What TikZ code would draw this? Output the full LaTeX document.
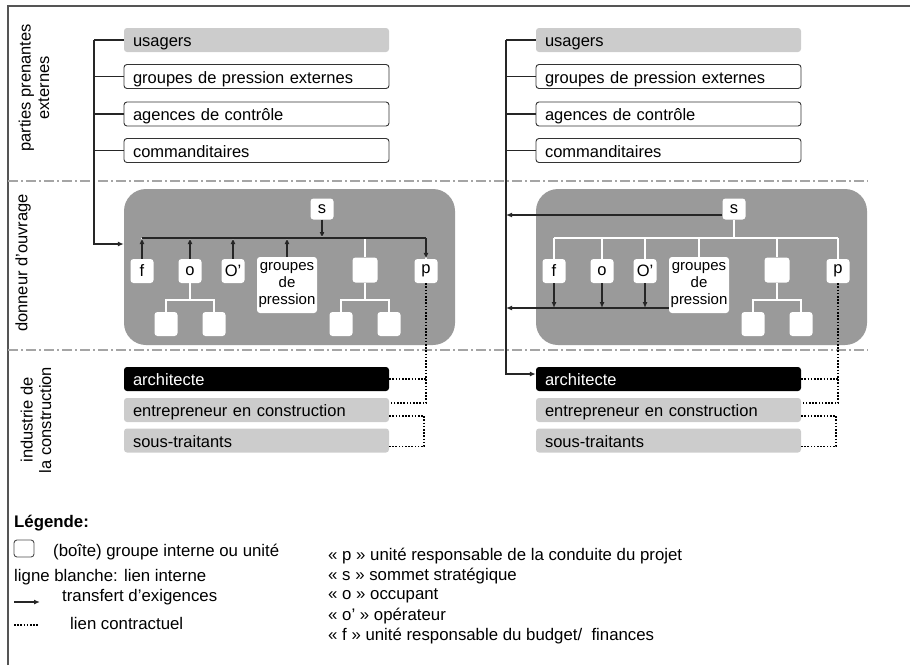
\documentclass[tikz,border=0pt]{standalone}
\usepackage{fontspec}
\setmainfont{Liberation Sans}
\usetikzlibrary{arrows.meta, positioning, calc}

\definecolor{boxgray}{HTML}{CCCCCC}
\definecolor{orggray}{HTML}{9A9A9A}
\definecolor{sepgray}{HTML}{A5A5A5}
\definecolor{framegray}{HTML}{555555}

\newcommand\lbl{\fontsize{16.5}{18.5}\selectfont}
\newcommand\keyfont{\fontsize{16.8}{19}\selectfont}

\tikzset{
  ext/.style={minimum width=265pt, minimum height=24pt, text width=247pt,
    text height=13pt, text depth=0pt,
    inner xsep=9pt, inner ysep=0pt, align=left, rounded corners=3pt, font=\lbl},
  extw/.style={ext, draw=black!80, line width=0.9pt, fill=white},
  extg/.style={ext, fill=boxgray},
  extb/.style={ext, fill=black, text=white},
  orgbox/.style={fill=orggray, rounded corners=22pt, minimum width=331pt, minimum height=156pt},
  unit/.style={fill=white, rounded corners=3pt, minimum width=23pt, minimum height=24pt,
    inner sep=0pt, font=\lbl},
  wline/.style={white, line width=2pt},
  conn/.style={black!85, line width=1.6pt},
  req/.style={conn, -{Latex[length=6pt,width=5pt]}},
  contract/.style={black, line width=1.6pt, dash pattern=on 1.6pt off 1.6pt},
  sep/.style={sepgray, line width=1.5pt, dash pattern=on 10pt off 3pt on 2pt off 3pt},
  legtxt/.style={font=\keyfont, anchor=west, inner sep=0pt},
}

% one column: external parties, owner organisation, construction industry
\newcommand\orgside[2]{%
\begin{scope}[xshift=#2]
  % parties prenantes externes
  \node[extg] (#1usa) at (256.5,40)    {usagers};
  \node[extw] (#1gpe) at (256.5,76.5)  {groupes de pression externes};
  \node[extw] (#1agc) at (256.5,114)   {agences de contrôle};
  \node[extw] (#1com) at (256.5,150.5) {commanditaires};
  % donneur d'ouvrage
  \node[orgbox] (#1org) at (289.5,267) {};
  \node[unit, minimum height=21pt] (#1s) at (322,209) {s};
  \node[unit] (#1f)  at (142,271) {f};
  \node[unit] (#1o)  at (190,271) {o};
  \node[unit] (#1op) at (233,271) {O'};
  \node[unit, minimum width=60pt, minimum height=56pt, align=center,
        font=\fontsize{15}{17}\selectfont] (#1gp) at (287,285) {groupes\\de\\pression};
  \node[unit, minimum width=25pt, minimum height=25pt] (#1b) at (365,270) {};
  \node[unit] (#1p)  at (426,271) {p};
  \node[unit] (#1b1) at (341,324) {};
  \node[unit] (#1b2) at (389,324) {};
  % liens internes
  \coordinate (#1bus) at (289,238);
  \coordinate (#1bj)  at (365,300);
  \draw[wline] (#1s.south) -- (#1s.south |- #1bus);
  \draw[wline] (#1f.north |- #1bus) -- (#1p.north |- #1bus);
  \foreach \n in {f,o,op,gp,b,p}
    \draw[wline] (#1\n.north) -- (#1\n.north |- #1bus);
  \draw[wline] (#1b.south) -- (#1bj);
  \draw[wline] (#1b1.north) |- (#1bj) -| (#1b2.north);
  % industrie de la construction
  \node[extb] (#1arc) at (256.5,379)   {architecte};
  \node[extg] (#1ent) at (256.5,410)   {entrepreneur en construction};
  \node[extg] (#1sst) at (256.5,440.5) {sous-traitants};
  % liens contractuels
  \draw[contract] (#1arc.east) -- (#1arc.east -| #1p.south);
  \draw[contract] (#1p.south) |- ([yshift=7pt]#1ent.east);
  \draw[contract] ([yshift=-6pt]#1ent.east) -- ++(35,0) |- ([yshift=-6pt]#1sst.east);
\end{scope}
}

\begin{document}
\begin{tikzpicture}[x=1pt, y=-1pt]
\useasboundingbox (0,0) rectangle (910,665);

% cadre
\draw[framegray, line width=1.5pt] (8,665) -- (8,6) -- (910,6);

% separations
\draw[sep] (8,181) -- (868,181);
\draw[sep] (8,350) -- (868,350);

% rubriques
\node[rotate=90, align=center, font=\lbl] (rubext) at (34,88)  {parties prenantes\\externes};
\node[rotate=90, font=\lbl]               (rubdo)  at (23,263) {donneur d'ouvrage};
\node[rotate=90, align=center, font=\lbl] (rubind) at (36,420) {industrie de\\la construction};

\orgside{L}{0}
\orgside{R}{412}

% gauche: sous-unites de o
\node[unit] (Lo1) at (166,324) {};
\node[unit] (Lo2) at (214,324) {};
\coordinate (Loj) at (190,300);
\draw[wline] (Lo.south) -- (Loj);
\draw[wline] (Lo1.north) |- (Loj) -| (Lo2.north);

% gauche: transfert d'exigences
\coordinate (Lbr) at (94,244);
\foreach \b in {usa,gpe,agc,com}
  \draw[conn] (L\b.west) -- (L\b.west -| Lbr);
\draw[req] (Lusa.west -| Lbr) -- (Lbr) -- (Lbr -| Lorg.west);
\draw[conn] (Lf.north |- Lbus) -- (Lp.north |- Lbus);
\foreach \n in {f,o,op,gp}
  \draw[req] (L\n.north) -- (L\n.north |- Lbus);
\draw[req] (Ls.south) -- (Ls.south |- Lbus);
\draw[req] (Lp.north |- Lbus) -- (Lp.north);

% droite: transfert d'exigences
\coordinate (Rbr) at (506,374);
\foreach \b in {usa,gpe,agc,com}
  \draw[conn] (R\b.west) -- (R\b.west -| Rbr);
\draw[req] (Rusa.west -| Rbr) -- (Rbr) -- (Rbr -| Rarc.west);
\draw[req] ([yshift=-6pt]Rs.west) -- ([yshift=-6pt]Rs.west -| Rbr);
\coordinate (Rlow) at (660,308);
\draw[req] (Rgp.west |- Rlow) -- (Rlow -| Rbr);
\foreach \n in {f,o,op}
  \draw[req] (R\n.south) -- (R\n.south |- Rlow);

% legende
\node[legtxt, font=\keyfont\bfseries] (legtitle) at (14,523) {Légende:};
\node[draw=black!70, line width=0.9pt, rounded corners=3pt, minimum width=20pt,
      minimum height=17pt, inner sep=0pt] (legbox) at (24,548.5) {};
\node[legtxt] (legboxt) at (53,552) {(boîte) groupe interne ou unité};
\node[legtxt] (legwline) at (14,577) {ligne blanche: lien interne};
\coordinate (legarrA) at (14,602);
\coordinate (legarrB) at (40,602);
\draw[req] (legarrA) -- (legarrB);
\node[legtxt] (legarrt) at (62,597) {transfert d'exigences};
\coordinate (legdotA) at (14,625);
\coordinate (legdotB) at (38,625);
\draw[contract] (legdotA) -- (legdotB);
\node[legtxt] (legdott) at (70,623) {lien contractuel};

\foreach [count=\i] \t in {{« p » unité responsable de la conduite du projet},
    {« s » sommet stratégique}, {« o » occupant}, {« o' » opérateur},
    {« f » unité responsable du budget/\ \ finances}}
  \node[legtxt] (key\i) at (328,536+20*\i) {\t};

\end{tikzpicture}
\end{document}
